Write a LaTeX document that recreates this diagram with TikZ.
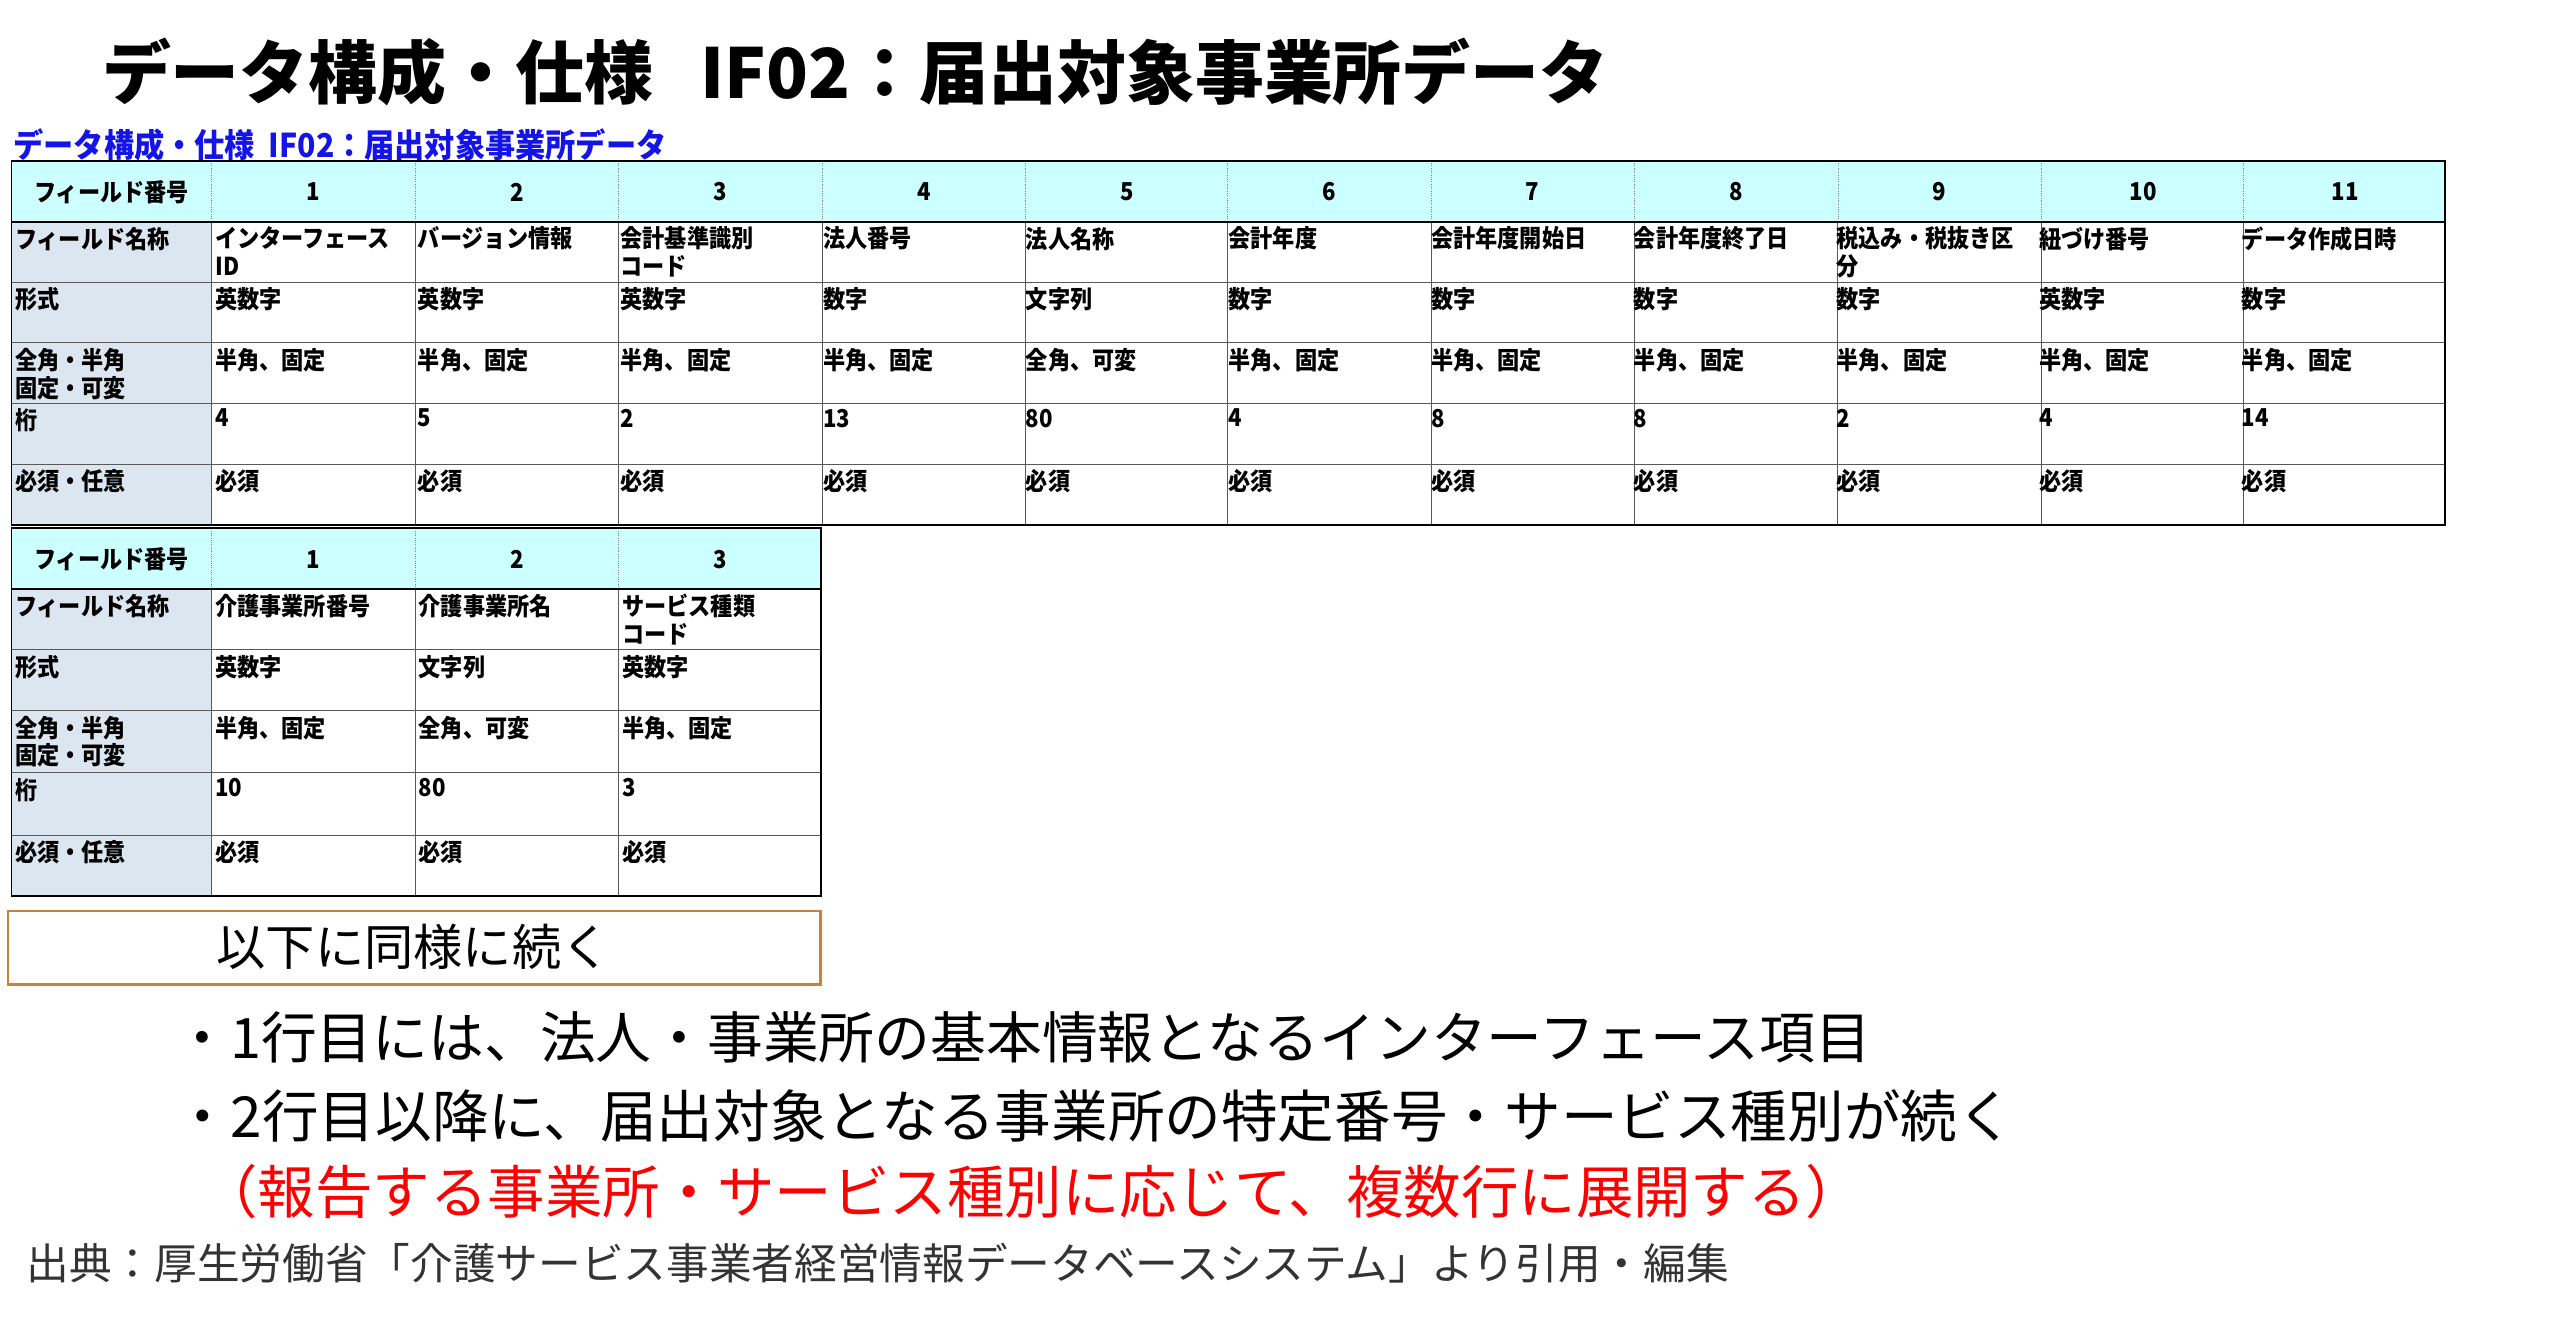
\documentclass[tikz,border=0pt]{standalone}
\usepackage{fontspec}
\setmainfont{Noto Sans CJK JP}
\definecolor{hdr}{RGB}{204,255,255}
\definecolor{lcol}{RGB}{220,230,241}
\definecolor{brownb}{RGB}{196,130,60}
\definecolor{subblue}{RGB}{20,20,230}
\begin{document}
\begin{tikzpicture}[x=1pt,y=-1pt,
  cell/.style={anchor=north west,inner sep=0pt,align=left,font=\fontsize{15}{17}\selectfont\bfseries,xscale=0.9},
  hcell/.style={anchor=center,inner sep=0pt,font=\fontsize{15}{17}\selectfont\bfseries,xscale=0.9}]
\useasboundingbox (0,0) rectangle (1560,802);
\node[anchor=west,inner sep=0pt,font=\fontsize{42}{46}\selectfont\bfseries] (title) at (62,44) {データ構成・仕様\ \ \ IF02：届出対象事業所データ};
\node[anchor=west,inner sep=0pt,text=subblue,font=\fontsize{20}{22}\selectfont\bfseries,xscale=0.92] (sub) at (8,88) {データ構成・仕様\ \ IF02：届出対象事業所データ};
% table 1
\fill[hdr] (7,98) rectangle (1490,135);
\fill[lcol] (7,135) rectangle (129,320);
\foreach \y in {135,172,209,246,283} \draw[gray!70!black,line width=0.6pt] (7,\y) -- (1490,\y);
\foreach \x in {129,253,377,501,625,748,872,996,1120,1244,1367} {
  \draw[gray,densely dotted] (\x,98) -- (\x,135);
  \draw[gray!70!black,line width=0.6pt] (\x,135) -- (\x,320);}
\draw[line width=1.2pt] (7,98) rectangle (1490,320);
\draw[line width=1.2pt] (7,135) -- (1490,135);
\node[hcell] (h0) at (68,117) {フィールド番号};
\foreach \i/\x in {1/191,2/315,3/439,4/563,5/687,6/810,7/934,8/1058,9/1182,10/1306,11/1429}
  \node[hcell] (hn\i) at (\x,117) {\i};
\foreach \t [count=\k] in {フィールド名称,形式,全角・半角\\固定・可変,桁,必須・任意}
  \node[cell] (l\k) at (9,{135+37*(\k-1)+3}) {\t};
\foreach \t [count=\k] in {インターフェース\\ID,バージョン情報,会計基準識別\\コード,法人番号,法人名称,会計年度,会計年度開始日,会計年度終了日,税込み・税抜き区\\分,紐づけ番号,データ作成日時}
  \node[cell] (n\k) at ({131+123.5*(\k-1)},138) {\t};
\foreach \t [count=\k] in {英数字,英数字,英数字,数字,文字列,数字,数字,数字,数字,英数字,数字}
  \node[cell] (f\k) at ({131+123.5*(\k-1)},175) {\t};
\foreach \t [count=\k] in {半角、固定,半角、固定,半角、固定,半角、固定,全角、可変,半角、固定,半角、固定,半角、固定,半角、固定,半角、固定,半角、固定}
  \node[cell] (w\k) at ({131+123.5*(\k-1)},212) {\t};
\foreach \t [count=\k] in {4,5,2,13,80,4,8,8,2,4,14}
  \node[cell] (d\k) at ({131+123.5*(\k-1)},249) {\t};
\foreach \k in {1,...,11}
  \node[cell] (r\k) at ({131+123.5*(\k-1)},286) {必須};
% table 2
\fill[hdr] (7,322) rectangle (500,359);
\fill[lcol] (7,359) rectangle (129,546);
\foreach \y in {359,396,433,471,509} \draw[gray!70!black,line width=0.6pt] (7,\y) -- (500,\y);
\foreach \x in {129,253,377} {
  \draw[gray,densely dotted] (\x,322) -- (\x,359);
  \draw[gray!70!black,line width=0.6pt] (\x,359) -- (\x,546);}
\draw[line width=1.2pt] (7,322) rectangle (500,546);
\draw[line width=1.2pt] (7,359) -- (500,359);
\node[hcell] (g0) at (68,341) {フィールド番号};
\foreach \i/\x in {1/191,2/315,3/439} \node[hcell] (gn\i) at (\x,341) {\i};
\foreach \t/\yy [count=\k] in {フィールド名称/362,形式/399,全角・半角\\固定・可変/436,桁/474,必須・任意/512}
  \node[cell] (m\k) at (9,\yy) {\t};
\foreach \t [count=\k] in {介護事業所番号,介護事業所名,サービス種類\\コード}
  \node[cell] (p\k) at ({131+124*(\k-1)},362) {\t};
\foreach \t [count=\k] in {英数字,文字列,英数字}
  \node[cell] (q\k) at ({131+124*(\k-1)},399) {\t};
\foreach \t [count=\k] in {半角、固定,全角、可変,半角、固定}
  \node[cell] (s\k) at ({131+124*(\k-1)},436) {\t};
\foreach \t [count=\k] in {10,80,3}
  \node[cell] (t\k) at ({131+124*(\k-1)},474) {\t};
\foreach \k in {1,2,3}
  \node[cell] (u\k) at ({131+124*(\k-1)},512) {必須};
% box
\draw[brownb,line width=1.5pt] (5,555) rectangle (500,600);
\node[font=\fontsize{30}{33}\selectfont] (cont) at (252,577) {以下に同様に続く};
% bullets
\node[anchor=west,inner sep=0pt,font=\fontsize{34}{38}\selectfont] (b1) at (106,632) {・1行目には、法人・事業所の基本情報となるインターフェース項目};
\node[anchor=west,inner sep=0pt,font=\fontsize{34.5}{38}\selectfont] (b2) at (106,680) {・2行目以降に、届出対象となる事業所の特定番号・サービス種別が続く};
\node[anchor=west,inner sep=0pt,text=red,font=\fontsize{35}{38}\selectfont] (b3) at (122,726) {（報告する事業所・サービス種別に応じて、複数行に展開する）};
\node[anchor=west,inner sep=0pt,text=black!80,font=\fontsize{26}{29}\selectfont] (src) at (16,770) {出典：厚生労働省「介護サービス事業者経営情報データベースシステム」より引用・編集};
\end{tikzpicture}
\end{document}
